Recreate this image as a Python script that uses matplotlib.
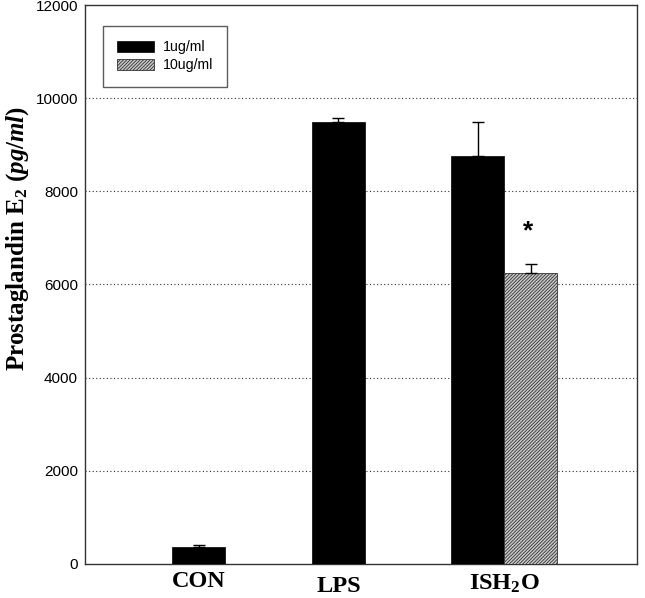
import matplotlib
matplotlib.use("Agg")
import matplotlib.pyplot as plt
import matplotlib.transforms as mtransforms
import numpy as np

categories = ["CON", "LPS", "ISH$_2$O"]
series_labels = ["1ug/ml", "10ug/ml"]
# black bars (1ug/ml): CON, LPS, ISH2O
black_vals = [355, 9490, 8760]
black_err = [45, 90, 725]
# hatched bar (10ug/ml): ISH2O only
hatch_vals = [6255]
hatch_err = [180]
yticks = [0, 2000, 4000, 6000, 8000, 10000, 12000]

plt.rcParams['mathtext.fontset'] = 'custom'
plt.rcParams['mathtext.rm'] = 'Liberation Serif:bold'
plt.rcParams['mathtext.it'] = 'Liberation Serif:bold:italic'
plt.rcParams['mathtext.bf'] = 'Liberation Serif:bold'
plt.rcParams['hatch.linewidth'] = 0.6

fig = plt.figure(figsize=(6.45, 5.98), dpi=100)
ax = fig.add_axes([0.1318, 0.0569, 0.8558, 0.9347])

w = 0.38
xb = np.arange(len(black_vals))
ax.bar(xb, black_vals, width=w, color='black', edgecolor='black', linewidth=0.5,
       label=series_labels[0], zorder=3)
ax.errorbar(xb, black_vals, yerr=[np.zeros(len(black_vals)), black_err], fmt='none',
            ecolor='black', elinewidth=1, capsize=4.3, capthick=1, zorder=4)
xh = np.array([2 + w])
ax.bar(xh, hatch_vals, width=w, color='#c8c8c8', edgecolor='#333333', linewidth=0.6,
       hatch='/' * 10, label=series_labels[1], zorder=3)
ax.errorbar(xh, hatch_vals, yerr=[[0], hatch_err], fmt='none',
            ecolor='black', elinewidth=1, capsize=4.3, capthick=1, zorder=4)
ax.text(xh[0] - 0.02, hatch_vals[0] + hatch_err[0] + 700, '*', ha='center', va='center',
        fontsize=19, fontweight='bold', family='Liberation Sans')

ax.set_xlim(-0.817, 3.14)
ax.set_ylim(0, 12000)
ax.set_yticks(yticks)
ax.set_yticklabels([str(t) for t in yticks], family='Liberation Sans', fontsize=11)
ax.tick_params(axis='y', length=0, pad=5)
ax.set_xticks([0, 1, 2 + w / 2])
ax.set_xticklabels(categories, fontsize=17.5, family='Liberation Serif', fontweight='bold')
ax.tick_params(axis='x', length=0, pad=5)
# per-label vertical offsets as in the reference
for lbl, dy in zip(ax.get_xticklabels(), [0, -5, -2]):
    lbl.set_transform(lbl.get_transform() +
                      mtransforms.ScaledTranslation(0, dy / 100, fig.dpi_scale_trans))

for t in yticks[1:-1]:
    ax.axhline(t, color='#333333', linestyle=(0, (1, 2.2)), linewidth=0.8, zorder=1)

for s in ax.spines.values():
    s.set_color('#333333')
    s.set_linewidth(1.0)

fig.text(18 / 645, 1 - 238 / 598,
         r'$\mathrm{Prostaglandin\ E_2\ (}\mathit{pg/ml}\mathrm{)}$',
         fontsize=18, rotation=90, ha='center', va='center')

leg = ax.legend(loc='upper left', bbox_to_anchor=(0.0326, 0.9624), borderaxespad=0,
                frameon=True, fancybox=False,
                edgecolor='#333333', handlelength=2.6, handleheight=0.8,
                borderpad=1.0, labelspacing=0.3, handletextpad=0.6,
                prop={'family': 'Liberation Sans', 'size': 10.2})
leg.get_frame().set_linewidth(1.0)

fig.savefig('out.png', dpi=100)
